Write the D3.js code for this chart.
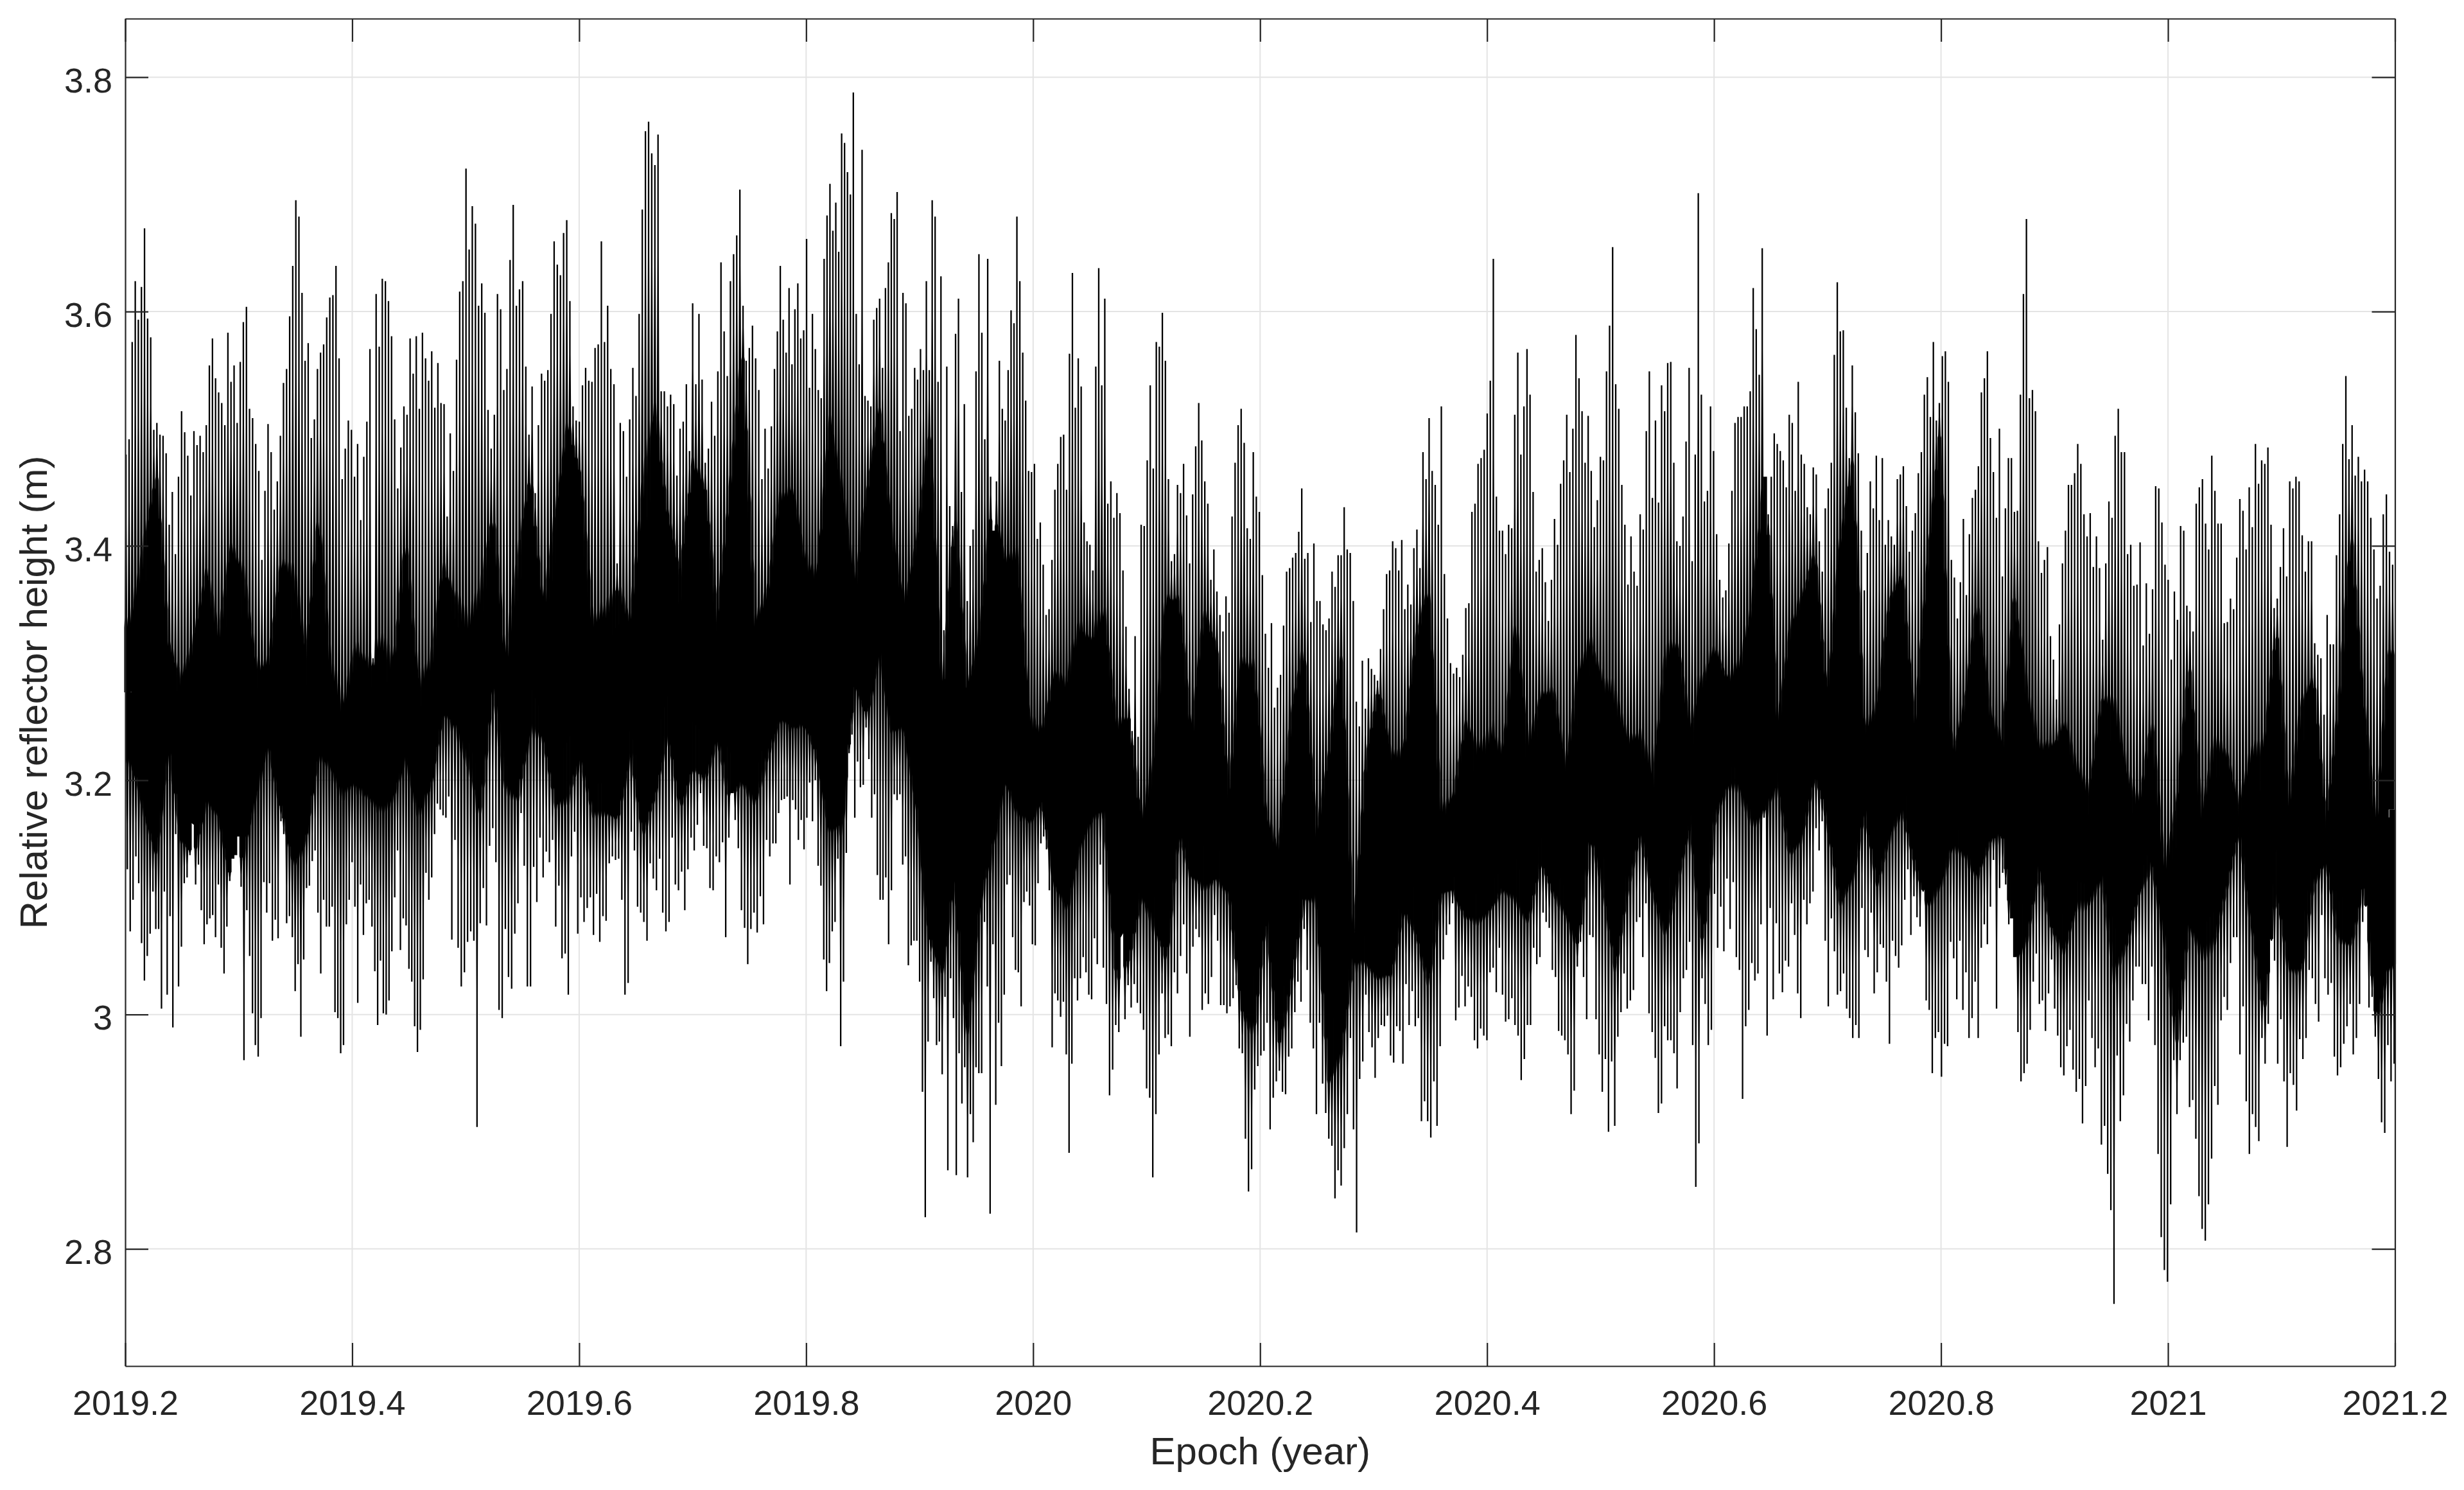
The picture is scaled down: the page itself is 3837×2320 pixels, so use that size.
<!DOCTYPE html>
<html>
<head>
<meta charset="utf-8">
<title>Relative reflector height</title>
<script src="https://cdn.jsdelivr.net/npm/d3@7"></script>
<style>
	html, body { margin: 0; padding: 0; background: #fff; }
	svg { display: block; }
	text { font-family: "Liberation Sans", Arial, sans-serif; fill: #262626; }
</style>
</head>
<body>
<script>

const xTicks = [2019.2, 2019.4, 2019.6, 2019.8, 2020, 2020.2, 2020.4, 2020.6, 2020.8, 2021, 2021.2]
const xTickLabels = ['2019.2', '2019.4', '2019.6', '2019.8', '2020', '2020.2', '2020.4', '2020.6', '2020.8', '2021', '2021.2']
const yTicks = [2.8, 3, 3.2, 3.4, 3.6, 3.8]
const yTickLabels = ['2.8', '3', '3.2', '3.4', '3.6', '3.8']

// one list per stretch of 2/7 year: daily high tips
const highs1 = [3.478,3.491,3.574,3.626,3.593,3.621,3.671,3.594,3.578,3.499,3.505,3.495,3.494,3.479,3.418,3.446,3.393,3.459,3.515,3.497,3.477,3.443,3.498,3.486,3.494,3.480,3.503,3.554,3.577,3.543,3.531,3.522,3.503,3.582,3.540,3.554,3.505,3.557,3.591,3.604,3.517,3.509,3.487,3.464,3.388,3.447,3.504,3.480,3.431,3.455,3.494,3.539,3.551,3.596,3.639,3.695,3.681,3.616,3.558,3.573,3.492,3.508,3.551,3.565,3.572,3.595,3.612,3.614,3.639,3.560,3.457,3.483,3.507,3.499,3.459,3.487,3.422,3.476,3.506,3.568,3.304,3.615,3.570,3.628,3.626,3.609,3.579,3.508,3.449,3.484,3.519,3.512,3.577,3.547,3.579,3.517,3.582,3.560,3.541,3.566,3.518,3.556,3.522,3.521,3.425]
const highs2 = [3.496,3.464,3.559,3.617,3.626,3.722,3.653,3.690,3.675,3.605,3.624,3.599,3.516,3.483,3.512,3.615,3.602,3.533,3.551,3.644,3.691,3.605,3.619,3.626,3.553,3.495,3.536,3.445,3.503,3.547,3.541,3.550,3.598,3.660,3.640,3.631,3.667,3.678,3.609,3.519,3.507,3.506,3.537,3.552,3.541,3.540,3.569,3.572,3.660,3.574,3.605,3.551,3.538,3.385,3.505,3.498,3.459,3.508,3.552,3.528,3.598,3.687,3.754,3.762,3.735,3.725,3.751,3.532,3.532,3.519,3.529,3.521,3.460,3.500,3.506,3.538,3.481,3.607,3.538,3.598,3.542,3.471,3.483,3.523,3.494,3.549,3.642,3.583,3.545,3.626,3.649,3.665,3.704,3.605,3.558,3.569,3.588,3.560,3.533,3.457,3.500,3.466,3.502]
const highs3 = [3.551,3.583,3.639,3.593,3.565,3.620,3.555,3.602,3.624,3.577,3.584,3.662,3.535,3.598,3.568,3.533,3.526,3.645,3.682,3.709,3.669,3.693,3.651,3.752,3.744,3.719,3.700,3.787,3.598,3.555,3.738,3.528,3.524,3.519,3.593,3.603,3.611,3.552,3.620,3.642,3.684,3.679,3.702,3.498,3.616,3.607,3.511,3.517,3.552,3.542,3.568,3.550,3.626,3.550,3.695,3.681,3.540,3.630,3.328,3.553,3.434,3.417,3.581,3.611,3.446,3.521,3.353,3.400,3.414,3.549,3.649,3.582,3.491,3.645,3.459,3.413,3.455,3.558,3.517,3.507,3.550,3.601,3.590,3.681,3.626,3.565,3.524,3.464,3.463,3.470,3.406,3.420,3.384,3.341,3.346,3.388,3.448,3.470,3.493,3.495,3.448,3.564,3.633,3.518,3.560,3.536,3.420,3.404,3.401,3.379,3.553]
const highs4 = [3.637,3.537,3.611,3.436,3.455,3.424,3.445,3.428,3.379,3.331,3.278,3.242,3.323,3.237,3.418,3.417,3.473,3.537,3.466,3.574,3.570,3.599,3.558,3.457,3.387,3.393,3.452,3.445,3.470,3.426,3.385,3.444,3.485,3.522,3.490,3.455,3.436,3.371,3.397,3.361,3.341,3.327,3.357,3.343,3.425,3.471,3.503,3.517,3.488,3.415,3.406,3.480,3.442,3.429,3.375,3.325,3.296,3.334,3.262,3.279,3.290,3.332,3.378,3.381,3.390,3.394,3.412,3.449,3.389,3.394,3.335,3.402,3.353,3.353,3.333,3.328,3.338,3.378,3.365,3.392,3.392,3.433,3.397,3.394,3.353,3.267,3.246,3.302,3.261,3.304,3.295,3.290,3.285,3.312,3.346,3.376,3.379,3.404,3.398,3.379,3.405,3.346,3.367,3.350,3.398,3.414,3.381]
const highs5 = [3.480,3.457,3.509,3.464,3.452,3.418,3.519,3.376,3.338,3.300,3.291,3.296,3.288,3.307,3.347,3.351,3.429,3.436,3.470,3.475,3.482,3.513,3.541,3.645,3.442,3.413,3.413,3.393,3.418,3.415,3.512,3.565,3.478,3.519,3.568,3.529,3.446,3.378,3.388,3.398,3.369,3.336,3.371,3.423,3.401,3.453,3.473,3.512,3.463,3.500,3.580,3.543,3.515,3.471,3.511,3.464,3.416,3.439,3.476,3.473,3.549,3.588,3.655,3.538,3.517,3.452,3.418,3.367,3.408,3.378,3.366,3.427,3.414,3.498,3.549,3.441,3.507,3.437,3.537,3.515,3.556,3.557,3.471,3.404,3.400,3.425,3.489,3.552,3.387,3.478,3.701,3.529,3.438,3.447,3.519,3.481,3.410,3.371,3.356,3.362,3.402,3.447,3.505,3.510,3.510,3.519]
const highs6 = [3.519,3.532,3.620,3.585,3.546,3.654,3.459,3.427,3.459,3.496,3.487,3.481,3.473,3.450,3.512,3.505,3.447,3.540,3.478,3.470,3.433,3.427,3.467,3.461,3.404,3.378,3.432,3.449,3.471,3.563,3.625,3.583,3.584,3.518,3.475,3.554,3.514,3.479,3.413,3.362,3.394,3.455,3.432,3.477,3.422,3.475,3.401,3.422,3.408,3.401,3.457,3.461,3.468,3.434,3.395,3.413,3.428,3.462,3.480,3.529,3.544,3.510,3.574,3.507,3.522,3.562,3.566,3.540,3.388,3.373,3.338,3.369,3.423,3.358,3.410,3.441,3.448,3.468,3.531,3.543,3.566,3.492,3.463,3.424,3.500,3.374,3.432,3.475,3.475,3.429,3.430,3.529,3.615,3.679,3.526,3.533,3.515,3.404,3.377,3.388,3.399,3.323,3.303,3.269,3.333,3.385,3.413,3.452]
const highs7 = [3.452,3.462,3.487,3.470,3.427,3.408,3.428,3.382,3.408,3.381,3.320,3.385,3.438,3.424,3.494,3.517,3.480,3.480,3.393,3.401,3.366,3.367,3.403,3.315,3.368,3.325,3.363,3.451,3.449,3.420,3.384,3.371,3.303,3.361,3.337,3.417,3.413,3.349,3.344,3.327,3.436,3.450,3.457,3.419,3.397,3.477,3.447,3.419,3.419,3.334,3.335,3.355,3.346,3.390,3.440,3.430,3.397,3.450,3.416,3.487,3.453,3.473,3.470,3.484,3.418,3.347,3.355,3.382,3.415,3.374,3.455,3.449,3.459,3.455,3.409,3.378,3.404,3.404,3.317,3.307,3.304,3.256,3.341,3.316,3.316,3.392,3.427,3.487,3.545,3.474,3.503,3.460,3.476,3.455,3.465,3.455,3.424,3.397,3.355,3.366,3.427,3.444,3.395,3.384]

// daily low tips
const lows1 = [3.124,3.071,3.098,3.135,3.112,3.061,3.029,3.050,3.069,3.105,3.073,3.073,3.005,3.105,3.017,3.084,2.989,3.154,3.024,3.058,3.112,3.117,3.136,3.168,3.111,3.128,3.089,3.060,3.077,3.082,3.085,3.066,3.111,3.057,3.035,3.075,3.114,3.133,3.136,3.152,3.109,2.961,3.089,3.050,3.001,2.974,2.964,2.997,3.113,3.087,3.112,3.063,3.081,3.065,3.165,3.154,3.078,3.084,3.066,3.020,3.043,2.981,3.047,3.108,3.110,3.131,3.140,3.087,3.035,3.098,3.075,3.075,3.092,3.002,2.997,2.967,2.974,3.077,3.098,3.130,3.092,3.010,3.111,3.068,3.095,3.098,3.075,3.037,2.991,3.046,3.001,3.000,3.012,3.054,3.100,3.140,3.055,3.082,3.076,3.039,3.028,2.990,2.968,2.987,3.030,3.121,3.098,3.117,3.154,3.180,3.175,3.170,3.168,3.186]
const lows2 = [3.064,3.149,3.057,3.024,3.036,3.062,3.071,3.063,2.904,3.078,3.108,3.076,3.144,3.159,3.130,3.004,2.997,3.073,3.032,3.022,3.069,3.095,3.172,3.127,3.024,3.024,3.126,3.096,3.151,3.117,3.139,3.130,3.149,3.075,3.110,3.048,3.052,3.017,3.135,3.156,3.069,3.100,3.079,3.091,3.100,3.068,3.103,3.062,3.084,3.080,3.129,3.135,3.132,3.133,3.098,3.017,3.027,3.156,3.140,3.092,3.087,3.079,3.063,3.129,3.116,3.106,3.133,3.087,3.071,3.079,3.151,3.111,3.106,3.122,3.089,3.124,3.151,3.140,3.162,3.189,3.144,3.142,3.108,3.106,3.135,3.130,3.147,3.066,3.151,3.189,3.166,3.142,3.089,3.074,3.043,3.073,3.087,3.070,3.101,3.077,3.149,3.135,3.146]
const lows3 = [3.146,3.172,3.183,3.184,3.186,3.111,3.183,3.175,3.149,3.166,3.141,3.168,3.198,3.165,3.200,3.127,3.110,3.047,3.020,3.044,3.071,3.079,3.133,2.973,3.028,3.138,3.223,3.239,3.168,3.216,3.194,3.196,3.245,3.218,3.168,3.188,3.119,3.098,3.098,3.117,3.060,3.106,3.188,3.183,3.188,3.128,3.135,3.042,3.059,3.063,3.063,3.028,2.934,2.827,2.977,3.045,3.014,2.974,2.977,2.949,3.015,2.867,3.031,2.997,2.863,2.967,2.924,2.955,2.861,2.915,2.891,2.955,2.950,2.950,3.079,3.024,2.830,3.060,2.923,2.993,2.956,3.017,3.111,3.119,3.066,3.038,3.036,3.007,3.096,3.105,3.093,3.060,3.059,3.112,3.146,3.152,3.141,3.106,2.972,3.018,3.012,2.998,3.011,2.966,2.882,2.958,3.031,3.012,3.031,3.049,3.036,3.017,3.013,3.065,3.043]
const lows4 = [3.128,3.040,3.009,2.931,2.953,2.991,2.985,3.084,2.996,3.025,3.006,3.026,3.010,3.001,2.987,2.937,2.929,2.861,2.915,2.966,3.018,2.980,2.983,2.973,3.036,3.018,3.050,3.077,3.035,2.981,3.058,3.073,3.066,3.004,3.018,3.009,3.032,3.085,3.063,3.008,3.008,3.001,3.007,3.014,3.025,2.971,2.967,2.894,2.849,2.868,2.936,2.956,2.965,2.969,2.993,2.902,2.929,2.943,2.952,2.934,2.932,2.964,2.971,3.002,3.028,3.011,3.073,3.038,2.993,2.971,2.915,2.993,2.941,2.916,2.894,2.888,2.843,2.867,2.854,2.886,2.915,2.980,2.902,2.814,2.945,2.960,3.017,2.985,2.972,2.946,2.980,2.991,2.990,2.999,2.965,2.959,2.990,2.986,2.958,3.026,2.991,3.020,2.990,2.997,2.909]
const lows5 = [2.926,2.909,2.895,2.943,2.905,2.973,3.047,3.068,3.077,3.095,2.995,3.006,3.033,3.007,3.024,3.015,2.978,2.971,2.988,2.982,2.978,3.036,3.040,3.019,3.057,3.017,2.994,2.996,3.014,2.991,2.982,2.944,2.962,2.991,2.991,3.057,3.043,3.049,3.087,3.079,3.074,3.038,3.032,2.986,2.982,2.978,2.966,2.915,2.935,3.041,3.062,3.032,2.996,3.068,3.066,2.996,2.966,2.934,2.962,2.900,2.960,2.905,2.981,3.002,3.035,3.005,3.012,3.021,3.079,3.083,3.049,3.095,3.001,2.985,2.963,2.916,2.924,2.990,2.978,2.978,2.967,2.937,3.002,3.031,3.038,3.062,2.974,2.853,2.890,3.031,3.009,2.974,2.987,3.103,3.057,3.092,3.054,3.116,3.073,3.113,3.049,3.038,2.928,2.990]
const lows6 = [3.004,3.044,3.029,3.035,3.077,3.168,2.982,3.091,3.013,3.078,3.035,3.019,3.046,3.041,3.095,3.068,3.018,2.997,3.098,3.077,3.095,3.105,3.159,3.140,3.165,3.063,3.007,3.082,3.054,3.017,3.020,3.035,3.005,2.997,2.980,2.991,2.980,3.091,3.055,3.049,3.087,3.018,3.036,3.060,3.057,3.028,2.975,3.063,3.050,3.040,3.059,3.098,3.124,3.068,3.101,3.083,3.075,3.105,3.012,3.004,2.950,2.980,2.985,2.947,2.975,2.973,3.062,3.048,3.013,3.063,3.004,3.036,2.980,2.997,3.028,2.980,3.057,3.077,3.060,3.092,3.132,3.005,3.108,3.121,3.111,3.077,3.082,3.049,2.985,2.943,2.950,2.958,2.987,3.028,3.052,3.009,3.012,2.986,3.018,3.047,3.005,2.982,2.955,2.948,2.973,2.987]
const lows7 = [2.953,2.934,2.945,2.907,2.939,3.012,2.980,2.955,2.971,2.889,2.905,2.864,2.833,2.753,2.965,2.909,2.931,2.992,2.977,3.012,3.041,3.041,3.026,3.026,2.995,3.041,2.974,2.881,2.810,2.782,2.772,2.838,2.961,2.915,2.961,2.976,2.981,2.921,2.927,2.894,2.845,2.817,2.807,2.838,2.877,2.939,2.923,2.995,3.015,3.004,3.044,3.066,3.066,2.966,3.007,2.926,2.881,2.915,2.904,2.892,2.980,2.958,2.992,3.063,3.046,2.958,2.996,2.943,2.887,2.950,2.940,2.918,2.979,2.962,2.980,3.038,3.031,3.009,2.994,3.085,3.031,3.017,3.027,2.964,2.948,2.955,2.975,2.990,3.009,2.966,2.980,3.009,3.079,3.092,3.006,3.015,2.981,2.945,2.908,2.899,2.974,2.943,2.958]

// upper and lower edge of the solid black band
const bandTop1 = [3.34,3.41,3.49,3.32,3.29,3.33,3.39,3.33,3.42,3.39,3.30,3.30,3.40,3.39,3.31,3.44,3.29,3.26,3.32,3.30,3.32,3.30,3.42,3.28,3.30,3.39]
const bandTop2 = [3.36,3.33,3.37,3.44,3.30,3.40,3.48,3.35,3.44,3.53,3.48,3.34,3.35,3.38,3.34,3.47,3.54,3.44,3.39,3.49,3.47,3.34,3.47,3.60,3.34,3.37]
const bandTop3 = [3.45,3.46,3.39,3.38,3.53,3.46,3.36,3.46,3.53,3.41,3.35,3.42,3.53,3.28,3.45,3.30,3.33,3.46,3.40,3.40,3.25,3.24,3.30,3.29,3.34,3.33]
const bandTop4 = [3.35,3.26,3.27,3.16,3.22,3.38,3.37,3.24,3.36,3.33,3.19,3.32,3.32,3.17,3.15,3.27,3.33,3.15,3.24,3.33,3.06,3.23,3.30,3.23,3.23,3.34]
const bandTop5 = [3.39,3.17,3.19,3.26,3.23,3.24,3.23,3.35,3.23,3.28,3.29,3.21,3.30,3.33,3.29,3.28,3.24,3.24,3.20,3.32,3.33,3.24,3.30,3.32,3.29,3.30]
const bandTop6 = [3.36,3.49,3.24,3.34,3.37,3.41,3.27,3.42,3.50,3.24,3.27,3.37,3.39,3.25,3.40,3.53,3.22,3.27,3.37,3.26,3.23,3.38,3.28,3.23,3.24,3.26]
const bandTop7 = [3.21,3.19,3.28,3.28,3.21,3.18,3.26,3.12,3.19,3.32,3.17,3.24,3.23,3.17,3.23,3.24,3.35,3.18,3.28,3.30,3.16,3.28,3.44,3.27,3.17,3.33]
const bandLow1 = [3.21,3.16,3.11,3.23,3.14,3.12,3.17,3.16,3.09,3.12,3.19,3.23,3.16,3.11,3.14,3.21,3.21,3.19,3.19,3.18,3.17,3.18,3.21,3.17,3.19,3.25]
const bandLow2 = [3.24,3.21,3.16,3.27,3.19,3.17,3.23,3.23,3.16,3.16,3.20,3.16,3.16,3.15,3.22,3.13,3.16,3.23,3.16,3.19,3.18,3.23,3.16,3.17,3.17,3.21]
const bandLow3 = [3.24,3.23,3.24,3.21,3.13,3.14,3.28,3.24,3.30,3.23,3.24,3.16,3.03,3.02,3.10,2.96,3.08,3.12,3.19,3.16,3.16,3.18,3.10,3.08,3.13,3.16]
const bandLow4 = [3.16,3.01,3.03,3.10,3.07,3.02,3.14,3.11,3.09,3.10,3.10,2.98,2.96,3.08,2.96,3.01,3.08,3.10,2.92,2.94,3.05,3.03,3.01,3.02,3.08,3.05]
const bandLow5 = [3.00,3.10,3.10,3.07,3.07,3.08,3.10,3.08,3.07,3.12,3.09,3.08,3.04,3.14,3.10,3.02,3.10,3.15,3.10,3.05,3.10,3.16,3.04,3.16,3.19,3.19]
const bandLow6 = [3.15,3.15,3.20,3.12,3.14,3.19,3.16,3.07,3.09,3.17,3.10,3.14,3.16,3.12,3.07,3.08,3.14,3.13,3.10,3.14,3.15,3.02,3.05,3.12,3.06,3.04]
const bandLow7 = [3.09,3.09,3.11,3.02,3.05,3.10,3.12,3.07,2.96,3.06,3.05,3.05,3.10,3.16,3.07,2.98,3.09,3.03,3.02,3.10,3.13,3.05,3.03,3.10,2.98,3.02]


const margin = {
	top: 29,
	right: 107.5,
	bottom: 193,
	left: 195
}

const width = 3837 - margin.left - margin.right
const height = 2320 - margin.top - margin.bottom
const tickLength = 36

const x = d3.scaleLinear().domain([2019.2, 2021.2]).range([0, width]);
const y = d3.scaleLinear().domain([2.7, 3.85]).range([height, 0]);

// spread each list evenly over its own stretch of the time axis
const stretch = 2 / 7;
function withEpochs(lists, shift) {
	const out = [];
	lists.forEach(function(list, s) {
		list.forEach(function(v, i) {
			out.push({ epoch: 2019.2 + stretch * (s + (i + shift) / list.length), value: v });
		});
	});
	return out;
}

const bandTop = withEpochs([bandTop1, bandTop2, bandTop3, bandTop4, bandTop5, bandTop6, bandTop7], 0.5);
const bandLow = withEpochs([bandLow1, bandLow2, bandLow3, bandLow4, bandLow5, bandLow6, bandLow7], 0.5);
const band = bandTop.map(function(d, i) {
	return { epoch: d.epoch, top: d.value, low: bandLow[i].value };
});

const bandEpoch = d3.scaleLinear().domain(band.map(function(d) { return d.epoch; })).clamp(true);
const topAt = bandEpoch.copy().range(band.map(function(d) { return d.top; }));
const lowAt = bandEpoch.copy().range(band.map(function(d) { return d.low; }));

// each tip knows where the band starts and where the band middle is
function spikes(lists, shift, edgeAt) {
	return withEpochs(lists, shift).map(function(d) {
		const middle = (topAt(d.epoch) + lowAt(d.epoch)) / 2;
		return { epoch: d.epoch, tip: d.value, edge: middle + (edgeAt(d.epoch) - middle) * 0.85, middle: middle };
	});
}

const spikeData = spikes([highs1, highs2, highs3, highs4, highs5, highs6, highs7], 0.25, topAt)
	.concat(spikes([lows1, lows2, lows3, lows4, lows5, lows6, lows7], 0.75, lowAt));

const svg = d3.select('body').append('svg')
	.attr('width', 3837)
	.attr('height', 2320)
	.style('background', '#fff')
.append('g')
	.attr('transform', 'translate(' + margin.left + ',' + margin.top + ')');

// grid
svg.append('g').selectAll('line')
	.data(xTicks.slice(1, -1))
	.join('line')
	.attr('x1', function(d) { return x(d); })
	.attr('x2', function(d) { return x(d); })
	.attr('y1', 0)
	.attr('y2', height)
	.style('stroke', '#e4e4e4')
	.style('stroke-width', 2);

svg.append('g').selectAll('line')
	.data(yTicks)
	.join('line')
	.attr('x1', 0)
	.attr('x2', width)
	.attr('y1', function(d) { return y(d); })
	.attr('y2', function(d) { return y(d); })
	.style('stroke', '#e4e4e4')
	.style('stroke-width', 2);

// inner part of the band, so no slits open in the middle
svg.append('path')
	.datum(band)
	.attr('d', d3.area()
		.x(function(d) { return x(d.epoch); })
		.y0(function(d) { return y(d.low + (d.top - d.low) * 0.2); })
		.y1(function(d) { return y(d.top - (d.top - d.low) * 0.2); }))
	.style('fill', '#000');

// spikes: thin at the tip, widening towards the band so the white gaps close up
const spikeOutline = d3.line()
	.x(function(p) { return x(p.epoch) + p.dx; })
	.y(function(p) { return y(p.value); });

function spikePoints(d) {
	const outside = Math.abs(d.tip - d.middle) > Math.abs(d.edge - d.middle);
	const start = outside ? d.edge : d.tip;
	const neck = start + (d.tip - start) * 0.6;
	const foot = start + (d.tip - start) * 0.06;
	return [
		{ epoch: d.epoch, dx: -1.15, value: d.tip },
		{ epoch: d.epoch, dx: 1.15, value: d.tip },
		{ epoch: d.epoch, dx: 1.15, value: neck },
		{ epoch: d.epoch, dx: 1.95, value: foot },
		{ epoch: d.epoch, dx: 2.8, value: start },
		{ epoch: d.epoch, dx: 2.8, value: d.middle },
		{ epoch: d.epoch, dx: -2.8, value: d.middle },
		{ epoch: d.epoch, dx: -2.8, value: start },
		{ epoch: d.epoch, dx: -1.95, value: foot },
		{ epoch: d.epoch, dx: -1.15, value: neck }
	];
}

svg.append('g').selectAll('path')
	.data(spikeData)
	.join('path')
	.attr('d', function(d) { return spikeOutline(spikePoints(d)) + 'Z'; })
	.style('fill', '#000');

// box and ticks on all four sides
const xAxis = d3.axisBottom(x)
	.tickValues(xTicks)
	.tickFormat(function(d, i) { return xTickLabels[i]; })
	.tickSize(-tickLength)
	.tickSizeOuter(0)
	.tickPadding(38);

const yAxis = d3.axisLeft(y)
	.tickValues(yTicks)
	.tickFormat(function(d, i) { return yTickLabels[i]; })
	.tickSize(-tickLength)
	.tickSizeOuter(0)
	.tickPadding(20);

const gx = svg.append('g')
	.attr('class', 'x axis')
	.attr('transform', 'translate(0,' + height + ')')
	.call(xAxis);

const gy = svg.append('g')
	.attr('class', 'y axis')
	.call(yAxis);

svg.append('g')
	.attr('transform', 'translate(0,0)')
	.call(d3.axisTop(x).tickValues(xTicks).tickFormat('').tickSize(-tickLength).tickSizeOuter(0));

svg.append('g')
	.attr('transform', 'translate(' + width + ',0)')
	.call(d3.axisRight(y).tickValues(yTicks).tickFormat('').tickSize(-tickLength).tickSizeOuter(0));

svg.selectAll('.domain, .tick line')
	.style('stroke', '#262626')
	.style('stroke-width', 2.2);

gx.selectAll('text')
	.style('font-size', '54px')
	.style('font-family', '"Liberation Sans", Arial, sans-serif')
	.style('fill', '#262626');

gy.selectAll('text')
	.attr('dy', '0.43em')
	.style('font-size', '54px')
	.style('font-family', '"Liberation Sans", Arial, sans-serif')
	.style('fill', '#262626');

// axis titles
svg.append('text')
	.attr('x', width / 2)
	.attr('y', 2280 - margin.top)
	.style('text-anchor', 'middle')
	.style('font-size', '60px')
	.text('Epoch (year)');

svg.append('text')
	.attr('transform', 'translate(' + (73 - margin.left) + ',' + (height / 2) + ') rotate(-90)')
	.style('text-anchor', 'middle')
	.style('font-size', '60px')
	.text('Relative reflector height (m)');

</script>
</body>
</html>
